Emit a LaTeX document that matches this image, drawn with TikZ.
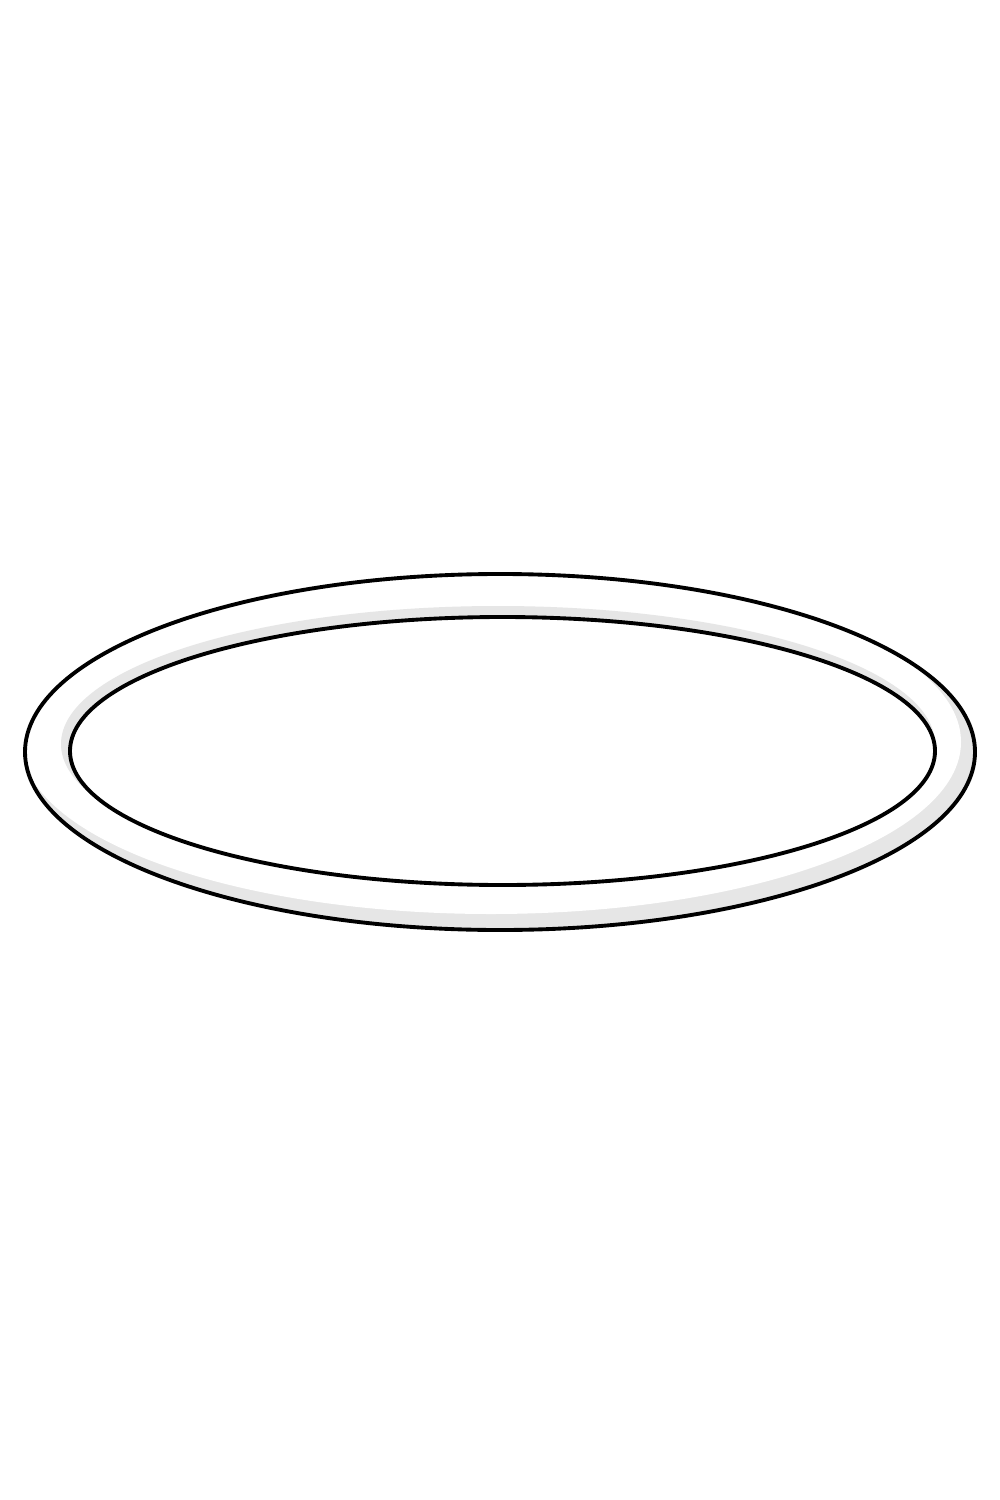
\documentclass[tikz,border=0pt]{standalone}
\definecolor{ringshade}{HTML}{E6E6E6}
\tikzset{ringline/.style={draw=black, line width=1.1pt}}
\begin{document}
\begin{tikzpicture}[x=0.01cm,y=-0.01cm]
\useasboundingbox[fill=white] (0,0) rectangle (1000,1500);
% bottom-right shading inside outer edge
\fill[ringshade] (500,752) ellipse [x radius=475, y radius=178];
\fill[white] (491,742) ellipse [x radius=470, y radius=172];
% top-left shading outside inner edge
\fill[ringshade] (498,744) ellipse [x radius=437, y radius=138];
\fill[white] (502.5,751) ellipse [x radius=432.5, y radius=134];
% outlines
\draw[ringline] (500,752) ellipse [x radius=475, y radius=178];
\draw[ringline] (502.5,751) ellipse [x radius=432.5, y radius=134];
\end{tikzpicture}
\end{document}
